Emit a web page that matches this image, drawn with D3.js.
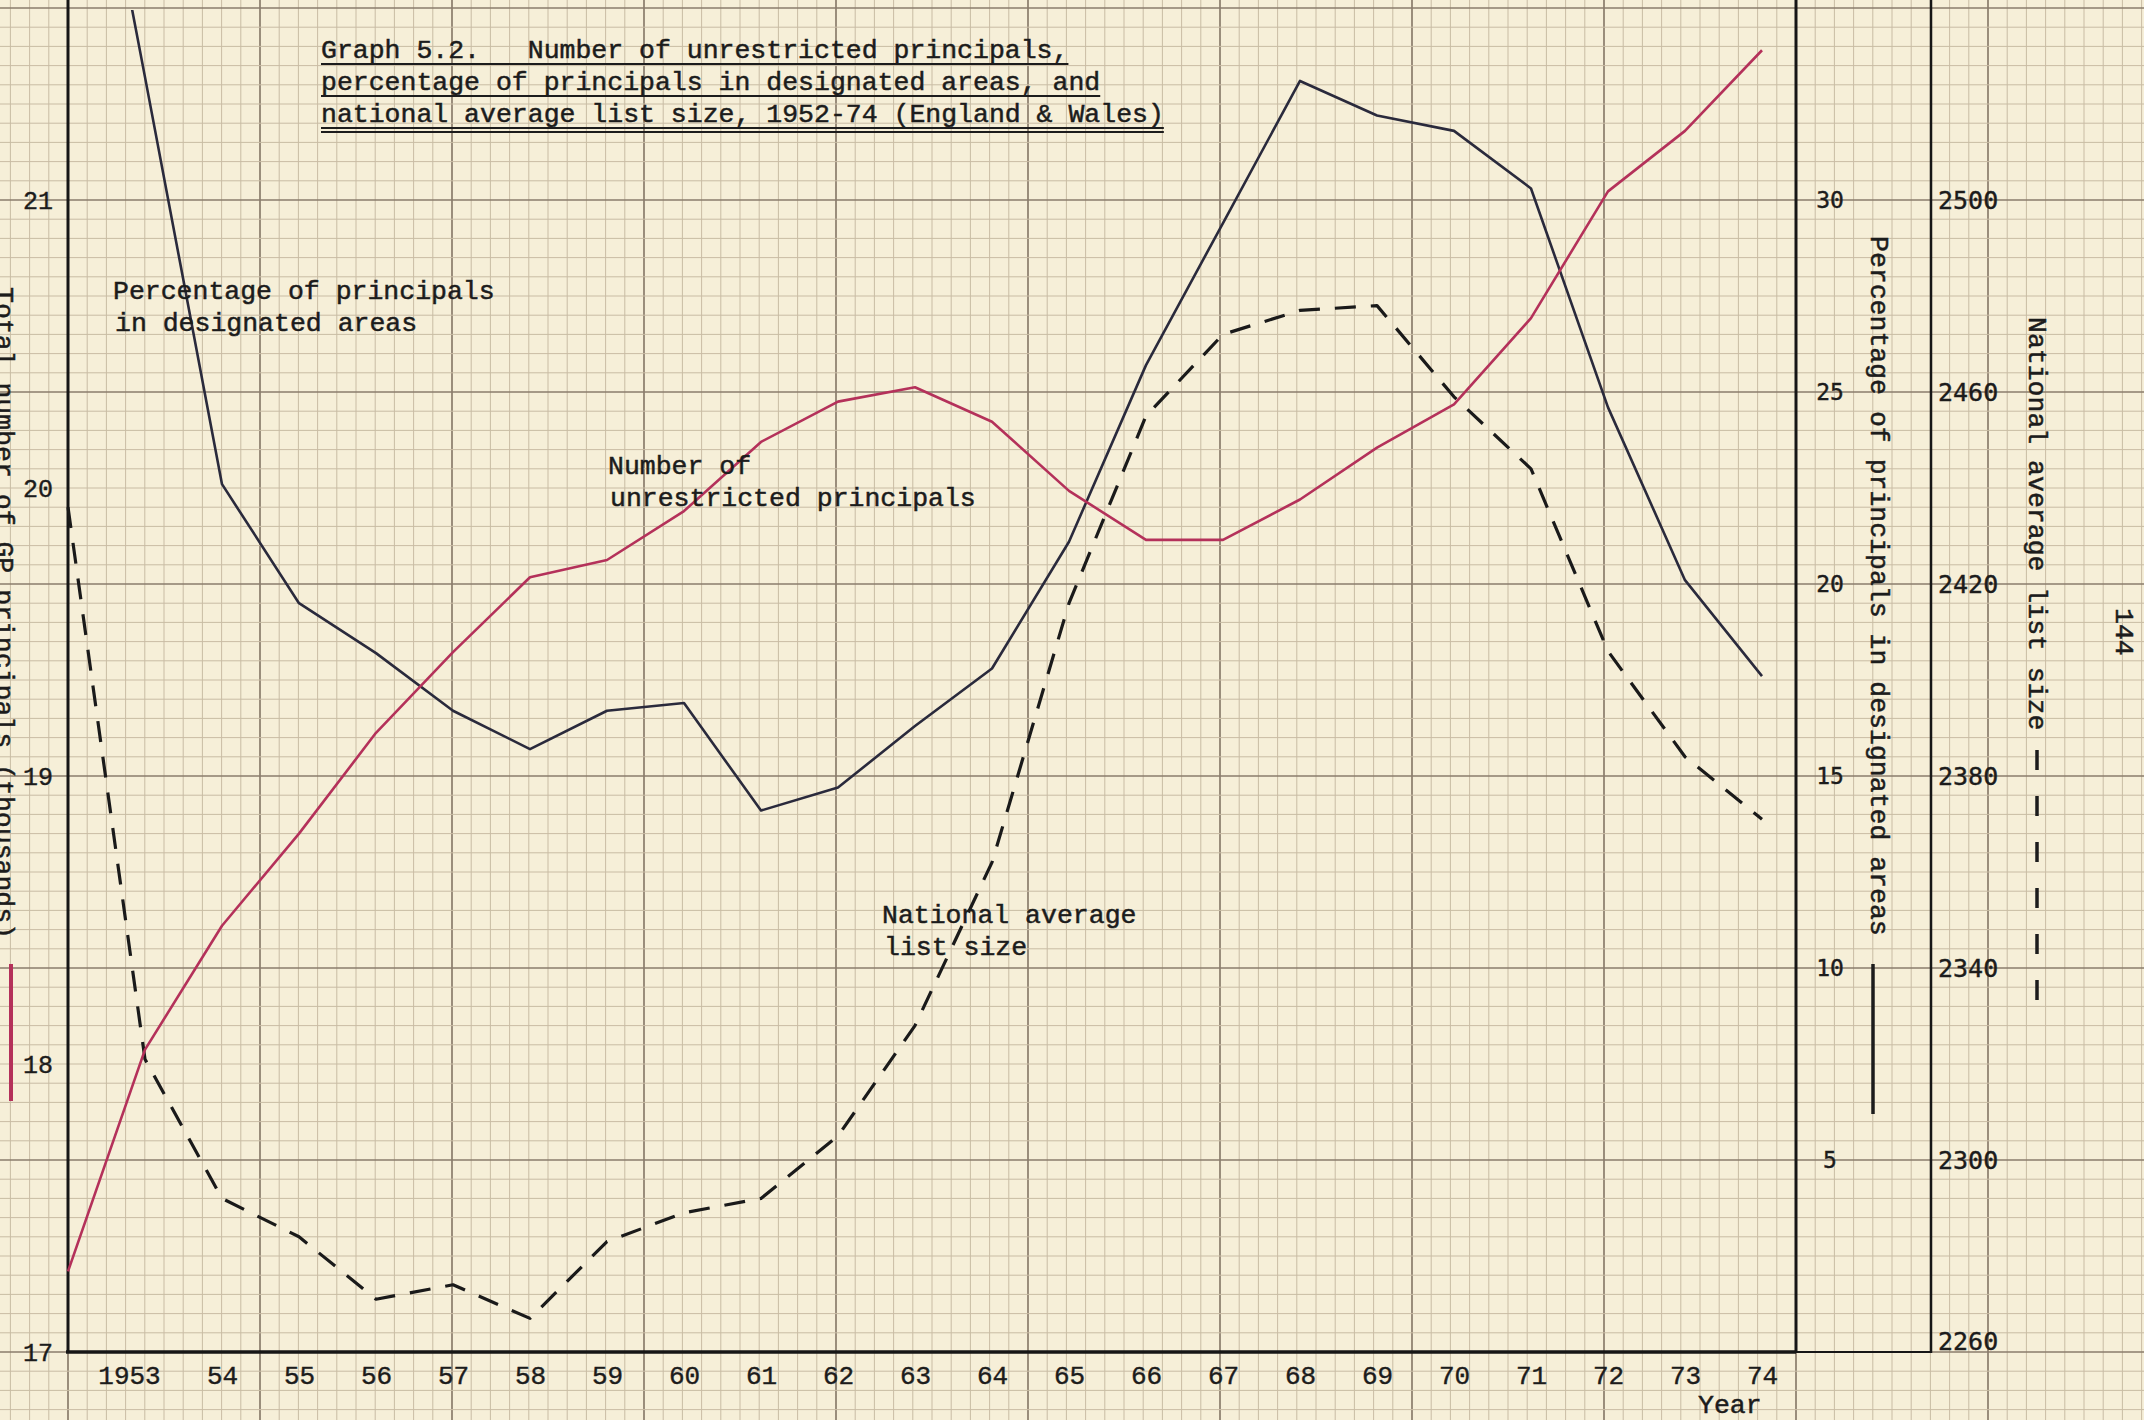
<!DOCTYPE html>
<html>
<head>
<meta charset="utf-8">
<script src="https://cdn.jsdelivr.net/npm/d3@7"></script>
<style>
  body { margin: 0; background: #f6efd8; }
  svg { display: block; }
</style>
</head>
<body>
<svg id="chart" width="2144" height="1420"></svg>
<script>
// data (England & Wales, 1952-74)
const years = [1952, 1953, 1954, 1955, 1956, 1957, 1958, 1959, 1960, 1961, 1962, 1963,
               1964, 1965, 1966, 1967, 1968, 1969, 1970, 1971, 1972, 1973, 1974];
// total number of GP principals (thousands) - red line, left axis
const gpPrincipals = [17.28, 18.05, 18.48, 18.80, 19.15, 19.43, 19.69, 19.75, 19.92, 20.16, 20.30, 20.35,
                      20.23, 19.99, 19.82, 19.82, 19.96, 20.14, 20.29, 20.59, 21.03, 21.24, 21.52];
// percentage of principals in designated areas - solid black line (1952 runs off the sheet)
const pctDesignated = [43.7, 33.2, 22.6, 19.5, 18.2, 16.7, 15.7, 16.7, 16.9, 14.1, 14.7, 16.3,
                       17.8, 21.1, 25.7, 29.4, 33.1, 32.2, 31.8, 30.3, 24.6, 20.1, 17.6];
// national average list size - dashed line
const listSize = [2436, 2321, 2292, 2284, 2271, 2274, 2267, 2283, 2289, 2292, 2305, 2328,
                  2362, 2416, 2455, 2472, 2477, 2478, 2459, 2444, 2406, 2384, 2371];

const totalTicks = [17, 18, 19, 20, 21];
const pctTicks = [5, 10, 15, 20, 25, 30];
const listTicks = [2260, 2300, 2340, 2380, 2420, 2460, 2500];

const titleLines = [
  'Graph 5.2.   Number of unrestricted principals,',
  'percentage of principals in designated areas, and',
  'national average list size, 1952-74 (England & Wales)'
];

const svg = d3.select('#chart');
const W = 2144, H = 1420;
const typeFont = '"Liberation Mono", "Courier New", monospace';
const sansFont = '"DejaVu Sans Mono", monospace';
const ink = '#1c1c1c';

// layout
const xLeft = 68, xPct = 1796, xList = 1931, yBase = 1352, yTop = 200;
const minor = 19.2;

// scales
const x = d3.scaleLinear().domain([1952, 1974]).range([xLeft, 1762]);
const yTotal = d3.scaleLinear().domain([17, 21]).range([yBase, yTop]);
const yPct = d3.scaleLinear().domain([0, 30]).range([yBase, yTop]);
const yList = d3.scaleLinear().domain([2260, 2500]).range([yBase, yTop]);

// paper
svg.append('rect').attr('width', W).attr('height', H).attr('fill', '#f6efd8');

// graph paper grid
const grid = svg.append('g');
const kx = d3.range(-3, Math.ceil((W - xLeft) / minor) + 1);
const ky = d3.range(-3, Math.ceil(yBase / minor) + 1);
grid.selectAll('line.v').data(kx).enter().append('line')
  .attr('x1', k => xLeft + k * minor).attr('x2', k => xLeft + k * minor)
  .attr('y1', 0).attr('y2', H)
  .attr('stroke', k => k % 10 === 0 ? '#8a7c6c' : '#c9bca4')
  .attr('stroke-width', k => k % 10 === 0 ? 1.7 : 1);
grid.selectAll('line.h').data(ky).enter().append('line')
  .attr('y1', k => yBase - k * minor).attr('y2', k => yBase - k * minor)
  .attr('x1', 0).attr('x2', W)
  .attr('stroke', k => k % 10 === 0 ? '#8a7c6c' : '#c9bca4')
  .attr('stroke-width', k => k % 10 === 0 ? 1.7 : 1);

// axis lines
const axes = svg.append('g').attr('stroke', '#161616');
axes.append('line').attr('x1', xLeft).attr('x2', xLeft).attr('y1', 0).attr('y2', yBase + 1).attr('stroke-width', 3);
axes.append('line').attr('x1', xPct).attr('x2', xPct).attr('y1', 0).attr('y2', yBase + 1).attr('stroke-width', 3);
axes.append('line').attr('x1', xList).attr('x2', xList).attr('y1', 0).attr('y2', yBase + 1).attr('stroke-width', 2.5);
axes.append('line').attr('x1', xLeft - 2).attr('x2', xPct).attr('y1', yBase).attr('y2', yBase).attr('stroke-width', 3.5);
axes.append('line').attr('x1', xPct).attr('x2', xList).attr('y1', yBase).attr('y2', yBase).attr('stroke-width', 2);

// tick labels
const styleAxis = (g, font, size) => {
  g.select('.domain').remove();
  g.attr('font-family', font).attr('font-size', size).attr('color', ink);
  g.selectAll('text').attr('stroke', ink).attr('stroke-width', 0.4);
};

svg.append('g').attr('transform', `translate(${xLeft},0)`)
  .call(d3.axisLeft(yTotal).tickValues(totalTicks).tickFormat(d3.format('d')).tickSize(0).tickPadding(15))
  .call(g => styleAxis(g, typeFont, 25));

svg.append('g').attr('transform', `translate(${xPct},0)`)
  .call(d3.axisRight(yPct).tickValues(pctTicks).tickFormat(d3.format('d')).tickSize(0).tickPadding(34))
  .call(g => styleAxis(g, sansFont, 23))
  .call(g => g.selectAll('text').attr('text-anchor', 'middle'));

svg.append('g').attr('transform', `translate(${xList},0)`)
  .call(d3.axisRight(yList).tickValues(listTicks).tickFormat(d3.format('d')).tickSize(0).tickPadding(7))
  .call(g => styleAxis(g, sansFont, 25))
  .call(g => g.selectAll('text').filter(d => d === 2260).attr('dy', '-0.1em'));

svg.append('g').attr('transform', `translate(0,${yBase})`)
  .call(d3.axisBottom(x).tickValues(years.slice(1)).tickSize(0).tickPadding(14)
    .tickFormat(d => d === 1953 ? '1953' : String(d).slice(2)))
  .call(g => styleAxis(g, typeFont, 26))
  .call(g => g.selectAll('text').filter(d => d === 1953).attr('dx', -16));

// data lines
svg.append('clipPath').attr('id', 'plotClip')
  .append('rect').attr('x', 0).attr('y', 10).attr('width', W).attr('height', yBase - 10);
const plot = svg.append('g').attr('clip-path', 'url(#plotClip)').attr('fill', 'none')
  .attr('stroke-linejoin', 'round');

const lineOf = (vals, y) => d3.line()
  .defined(d => d != null)
  .x((d, i) => x(years[i]))
  .y(d => y(d))(vals);

plot.append('path').attr('d', lineOf(listSize, yList))
  .attr('stroke', '#1a1a1a').attr('stroke-width', 3.2).attr('stroke-dasharray', '21 15');
plot.append('path').attr('d', lineOf(pctDesignated, yPct))
  .attr('stroke', '#2a2a3c').attr('stroke-width', 2.6);
plot.append('path').attr('d', lineOf(gpPrincipals, yTotal))
  .attr('stroke', '#b4315a').attr('stroke-width', 2.6);

// title, typed and underlined
const title = svg.append('g').attr('font-family', typeFont).attr('font-size', 26.5)
  .attr('fill', ink).attr('stroke', ink).attr('stroke-width', 0.5);
titleLines.forEach((t, i) => {
  const base = 58 + i * 32;
  const txt = title.append('text').attr('x', 321).attr('y', base).attr('xml:space', 'preserve').text(t);
  const len = txt.node().getComputedTextLength();
  title.append('line').attr('x1', 321).attr('x2', 321 + len)
    .attr('y1', base + 6).attr('y2', base + 6).attr('stroke-width', 2.2);
  if (i === 2) {
    title.append('line').attr('x1', 321).attr('x2', 321 + len)
      .attr('y1', base + 10).attr('y2', base + 10).attr('stroke-width', 2.2);
  }
});

// in-plot annotations
const notes = svg.append('g').attr('font-family', typeFont).attr('font-size', 26.5)
  .attr('fill', ink).attr('stroke', ink).attr('stroke-width', 0.5);
const note = (lines, x0, y0) => lines.forEach((t, i) =>
  notes.append('text').attr('x', x0 + (i ? 2 : 0)).attr('y', y0 + i * 32).text(t));
note(['Percentage of principals', 'in designated areas'], 113, 299);
note(['Number of', 'unrestricted principals'], 608, 474);
note(['National average', 'list size'], 882, 923);

// rotated axis titles
const vtext = (t, x0, y0) => svg.append('text')
  .attr('transform', `translate(${x0},${y0}) rotate(90)`)
  .attr('font-family', typeFont).attr('font-size', 26.5)
  .attr('fill', ink).attr('stroke', ink).attr('stroke-width', 0.5)
  .text(t);

vtext('Total number of GP principals (thousands)', -4, 287);
svg.append('line').attr('x1', 11).attr('x2', 11).attr('y1', 964).attr('y2', 1101)
  .attr('stroke', '#b4315a').attr('stroke-width', 4);

vtext('Percentage of principals in designated areas', 1871, 236);
svg.append('line').attr('x1', 1873).attr('x2', 1873).attr('y1', 964).attr('y2', 1114)
  .attr('stroke', ink).attr('stroke-width', 3.5);

vtext('National average list size', 2029, 317);
svg.append('line').attr('x1', 2037).attr('x2', 2037).attr('y1', 750).attr('y2', 1000)
  .attr('stroke', ink).attr('stroke-width', 3.5).attr('stroke-dasharray', '20 26');

vtext('144', 2116, 608);

svg.append('text').attr('x', 1698).attr('y', 1413)
  .attr('font-family', typeFont).attr('font-size', 26.5)
  .attr('fill', ink).attr('stroke', ink).attr('stroke-width', 0.5).text('Year');
</script>
</body>
</html>
